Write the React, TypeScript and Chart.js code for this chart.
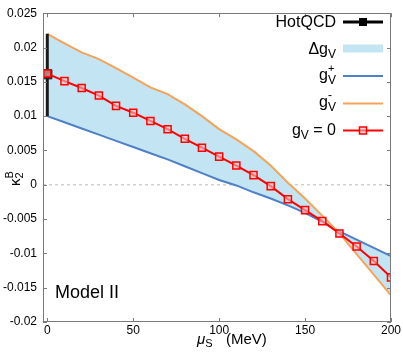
import React, { useEffect, useRef } from "react";
import { Chart, registerables } from "chart.js";

Chart.register(...registerables);

// ---- data ----
const muValues = [0, 10, 20, 30, 40, 50, 60, 70, 80, 90, 100, 110, 120, 130, 140, 150, 160, 170, 180, 190, 200];
const gV0Values = [0.0162, 0.0151, 0.0141, 0.0130, 0.0115, 0.0105, 0.0093, 0.0081, 0.0067, 0.0054, 0.0041, 0.0028, 0.0014, -0.0002, -0.0021, -0.0037, -0.0053, -0.0071, -0.0090, -0.0111, -0.0135];
const gPlusValues = [0.0100, 0.0091, 0.0082, 0.0073, 0.0064, 0.0055, 0.0046, 0.0037, 0.0027, 0.0017, 0.0007, -0.0001, -0.0011, -0.0020, -0.0030, -0.0041, -0.0054, -0.0068, -0.0080, -0.0092, -0.0104];
const gMinusValues = [0.0220, 0.0206, 0.0193, 0.0183, 0.0170, 0.0156, 0.0142, 0.0132, 0.0117, 0.0100, 0.0081, 0.0066, 0.0049, 0.0028, 0.0003, -0.0020, -0.0045, -0.0071, -0.0101, -0.0131, -0.0161];
const hotQCDMu = [0];
const hotQCDCentral = [0.0161];
const hotQCDLow = [0.0100];
const hotQCDHigh = [0.0220];
const xTickValues = [0, 50, 100, 150, 200];
const yTickValues = [-0.02, -0.015, -0.01, -0.005, 0, 0.005, 0.01, 0.015, 0.02, 0.025];
const xRange = [-2.5, 200];
const yRange = [-0.02, 0.025];
const zeroLineValues = [0, 0];

const FONT = "'Liberation Sans', Arial, Helvetica, sans-serif";
const BLUE = "#4f80c6";
const ORANGE = "#f6a35a";
const RED = "#ff0000";
const FILL = "#c3e5f3";
const FRAME = "#7a7a7a";
const MARKER_FILL = "rgba(255,190,190,0.6)";

type Seg = { t: string; s: number; dy?: number; it?: boolean };
type Group = Seg[];

function fontOf(seg: Seg) {
  return `${seg.it ? "italic " : ""}${seg.s}px ${FONT}`;
}
function groupWidth(ctx: CanvasRenderingContext2D, g: Group) {
  let w = 0;
  for (const seg of g) {
    ctx.font = fontOf(seg);
    w = Math.max(w, ctx.measureText(seg.t).width);
  }
  return w;
}
function drawRich(ctx: CanvasRenderingContext2D, groups: Group[], x: number, baseline: number, align: "left" | "right") {
  const widths = groups.map((g) => groupWidth(ctx, g));
  const total = widths.reduce((a, b) => a + b, 0);
  let cx = align === "right" ? x - total : x;
  ctx.textAlign = "left";
  ctx.textBaseline = "alphabetic";
  ctx.fillStyle = "#000";
  groups.forEach((g, i) => {
    for (const seg of g) {
      ctx.font = fontOf(seg);
      ctx.fillText(seg.t, cx, baseline + (seg.dy || 0));
    }
    cx += widths[i];
  });
}

const legendEntries: { label: Group[]; baseline: number; symY: number; kind: string }[] = [
  { label: [[{ t: "HotQCD", s: 16 }]], baseline: 27, symY: 22, kind: "hotqcd" },
  { label: [[{ t: "\u0394g", s: 16 }], [{ t: "V", s: 12, dy: 4 }]], baseline: 54, symY: 48.5, kind: "band" },
  { label: [[{ t: "g", s: 16 }], [{ t: "+", s: 11, dy: -8 }, { t: "V", s: 12, dy: 4 }]], baseline: 80, symY: 76, kind: "plus" },
  { label: [[{ t: "g", s: 16 }], [{ t: "-", s: 12, dy: -8 }, { t: "V", s: 12, dy: 4 }]], baseline: 107, symY: 103.5, kind: "minus" },
  { label: [[{ t: "g", s: 16 }], [{ t: "V", s: 12, dy: 4 }], [{ t: " = 0", s: 16 }]], baseline: 135, symY: 130.5, kind: "red" },
];

const decorPlugin = {
  id: "decor",
  afterDraw(chart: any) {
    const ctx: CanvasRenderingContext2D = chart.ctx;
    const { left, right, top, bottom } = chart.chartArea;
    const xs = chart.scales.x;
    const ys = chart.scales.y;
    ctx.save();
    // frame
    ctx.strokeStyle = FRAME;
    ctx.lineWidth = 1;
    ctx.setLineDash([]);
    ctx.strokeRect(Math.round(left) + 0.5, Math.round(top) + 0.5, Math.round(right - left) - 1, Math.round(bottom - top) - 1);
    // inward ticks
    const tl = 4;
    ctx.beginPath();
    for (const v of yTickValues) {
      const y = Math.round(ys.getPixelForValue(v)) + 0.5;
      ctx.moveTo(left, y);
      ctx.lineTo(left + tl, y);
      ctx.moveTo(right, y);
      ctx.lineTo(right - tl, y);
    }
    for (const v of xTickValues) {
      const x = Math.round(xs.getPixelForValue(v)) + 0.5;
      ctx.moveTo(x, bottom);
      ctx.lineTo(x, bottom - tl);
      ctx.moveTo(x, top);
      ctx.lineTo(x, top + tl);
    }
    ctx.stroke();

    // Model II
    drawRich(ctx, [[{ t: "Model II", s: 18 }]], 55, 298, "left");

    // legend
    const sx0 = 343;
    const sx1 = 383;
    for (const e of legendEntries) {
      drawRich(ctx, e.label, 336, e.baseline, "right");
      const y = e.symY;
      if (e.kind === "band") {
        ctx.fillStyle = FILL;
        ctx.fillRect(sx0, y - 4, sx1 - sx0, 8);
      } else {
        const color = e.kind === "hotqcd" ? "#000" : e.kind === "plus" ? BLUE : e.kind === "minus" ? ORANGE : RED;
        ctx.strokeStyle = color;
        ctx.lineWidth = e.kind === "hotqcd" ? 3 : 2;
        ctx.beginPath();
        ctx.moveTo(sx0, y);
        ctx.lineTo(sx1, y);
        ctx.stroke();
        const cx = (sx0 + sx1) / 2;
        if (e.kind === "hotqcd") {
          ctx.fillStyle = "#000";
          ctx.fillRect(cx - 4, y - 4, 8, 8);
        } else if (e.kind === "red") {
          ctx.fillStyle = MARKER_FILL;
          ctx.fillRect(cx - 3.5, y - 3.5, 7, 7);
          ctx.lineWidth = 1.5;
          ctx.strokeRect(cx - 3.5, y - 3.5, 7, 7);
        }
      }
    }

    // x axis title
    drawRich(ctx, [[{ t: "\u03bc", s: 15, it: true }], [{ t: "S", s: 11, dy: 3 }]], 197, 344, "left");
    drawRich(ctx, [[{ t: "(MeV)", s: 15 }]], 226, 344, "left");

    // y axis title (rotated)
    ctx.translate(20, 186);
    ctx.rotate(-Math.PI / 2);
    drawRich(ctx, [[{ t: "\u03ba", s: 15 }], [{ t: "B", s: 11, dy: -7 }, { t: "2", s: 11, dy: 3 }]], 0, 0, "left");
    ctx.restore();
  },
};

function fmtTick(v: number) {
  const r = Math.round(v * 1000) / 1000;
  if (Math.abs(r) < 1e-9) return "0";
  return String(r);
}

export default function App() {
  const ref = useRef<HTMLCanvasElement | null>(null);
  useEffect(() => {
    if (!ref.current) return;
    const pts = (arr: number[]) => muValues.map((m, i) => ({ x: m, y: arr[i] }));
    const chart = new Chart(ref.current, {
      type: "line",
      data: {
        datasets: [
          {
            label: "zero",
            data: xRange.map((x, i) => ({ x, y: zeroLineValues[i] })),
            borderColor: "#d0d0d0",
            borderWidth: 1.5,
            borderDash: [3, 3],
            pointRadius: 0,
            fill: false,
            order: 20,
          },
          {
            label: "\u0394gV",
            data: pts(gMinusValues),
            borderWidth: 0,
            borderColor: "rgba(0,0,0,0)",
            backgroundColor: FILL,
            pointRadius: 0,
            fill: 3,
            order: 10,
          },
          {
            label: "g-V",
            data: pts(gMinusValues),
            borderColor: ORANGE,
            borderWidth: 2,
            pointRadius: 0,
            fill: false,
            order: 5,
          },
          {
            label: "g+V",
            data: pts(gPlusValues),
            borderColor: BLUE,
            borderWidth: 2,
            pointRadius: 0,
            fill: false,
            order: 5,
          },
          {
            label: "HotQCD",
            data: [
              { x: hotQCDMu[0], y: hotQCDLow[0] },
              { x: hotQCDMu[0], y: hotQCDHigh[0] },
            ],
            borderColor: "#1a1a1a",
            borderWidth: 3,
            pointRadius: 0,
            fill: false,
            order: 3,
          },
          {
            label: "HotQCD point",
            data: hotQCDMu.map((m, i) => ({ x: m, y: hotQCDCentral[i] })),
            showLine: false,
            pointStyle: "rect",
            pointRadius: 6.5,
            pointBackgroundColor: "#222",
            pointBorderColor: "#222",
            order: 2,
          },
          {
            label: "gV = 0",
            data: pts(gV0Values),
            borderColor: RED,
            borderWidth: 2,
            pointStyle: "rect",
            pointRadius: 5,
            pointBorderWidth: 1.5,
            pointBorderColor: RED,
            pointBackgroundColor: MARKER_FILL,
            fill: false,
            order: 1,
          },
        ],
      },
      options: {
        animation: false,
        responsive: false,
        maintainAspectRatio: false,
        layout: { padding: { top: 8, right: 12, left: 0, bottom: 0 } },
        plugins: {
          legend: { display: false },
          tooltip: { enabled: false },
        },
        elements: { line: { tension: 0 } },
        scales: {
          x: {
            type: "linear",
            min: xRange[0],
            max: xRange[1],
            afterBuildTicks: (s: any) => {
              s.ticks = xTickValues.map((v) => ({ value: v }));
            },
            afterFit: (s: any) => {
              s.height = 31;
            },
            grid: { display: false, drawTicks: false },
            border: { display: false },
            ticks: {
              font: { family: FONT, size: 12 },
              color: "#000",
              padding: 1,
              maxRotation: 0,
              autoSkip: false,
            },
          },
          y: {
            type: "linear",
            min: yRange[0],
            max: yRange[1],
            afterBuildTicks: (s: any) => {
              s.ticks = yTickValues.map((v) => ({ value: v }));
            },
            afterFit: (s: any) => {
              s.width = 43;
            },
            grid: { display: false, drawTicks: false },
            border: { display: false },
            ticks: {
              font: { family: FONT, size: 12 },
              color: "#000",
              padding: 6,
              autoSkip: false,
              callback: (v: any) => fmtTick(Number(v)),
            },
          },
        },
      },
      plugins: [decorPlugin],
    });
    return () => chart.destroy();
  }, []);
  return (
    <div style={{ position: "fixed", left: 0, top: 0, width: 403, height: 353, background: "#fff" }}>
      <canvas ref={ref} width={403} height={353} style={{ display: "block", width: 403, height: 353 }} />
    </div>
  );
}
